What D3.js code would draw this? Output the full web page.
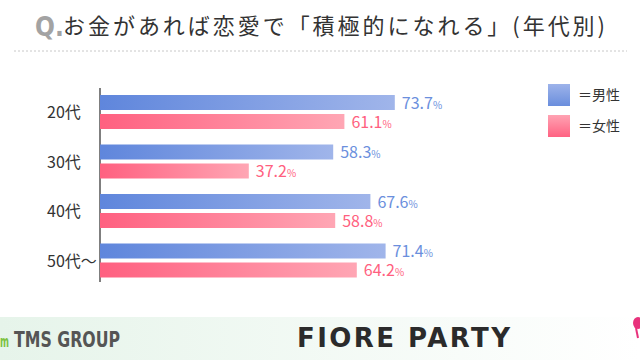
<!DOCTYPE html>
<html lang="ja">
<head>
<meta charset="utf-8">
<title>お金があれば恋愛で「積極的になれる」(年代別)</title>
<script src="https://cdn.jsdelivr.net/npm/d3@7"></script>
<style>
  body { margin: 0; background: #fff; }
  svg { display: block; font-family: "Noto Sans CJK JP", "Noto Sans", sans-serif; }
</style>
</head>
<body>
<script>
// data
var ages = ["20代", "30代", "40代", "50代〜"];
var male = [73.7, 58.3, 67.6, 71.4];
var female = [61.1, 37.2, 58.8, 64.2];
var seriesNames = ["＝男性", "＝女性"];

var w = 640, h = 360;
var svg = d3.select("body").append("svg").attr("width", w).attr("height", h);
var defs = svg.append("defs");

function grad(id, c1, c2, vertical) {
  var g = defs.append("linearGradient").attr("id", id)
    .attr("x1", 0).attr("y1", 0)
    .attr("x2", vertical ? 0 : 1).attr("y2", vertical ? 1 : 0);
  g.append("stop").attr("offset", "0%").attr("stop-color", c1);
  g.append("stop").attr("offset", "100%").attr("stop-color", c2);
}
grad("gMale", "#5f86dc", "#a0b5ea", false);
grad("gFemale", "#ff6080", "#ffa6b4", false);
grad("gMaleV", "#9db3ea", "#6a8edd", true);
grad("gFemaleV", "#ffa3b3", "#ff6282", true);
grad("gFoot", "#e6f4ea", "#ffffff", false);

// title
svg.append("text").attr("x", 35).attr("y", 36)
  .attr("font-size", 26).attr("font-weight", "bold").attr("fill", "#a3a3a3")
  .attr("font-family", "'Liberation Sans Narrow', 'DejaVu Sans Condensed', sans-serif")
  .text("Q.");
svg.append("text").attr("x", 63).attr("y", 34)
  .attr("font-size", 22).attr("fill", "#333")
  .attr("textLength", 542).attr("lengthAdjust", "spacing")
  .text("お金があれば恋愛で「積極的になれる」(年代別)");
svg.append("line").attr("x1", 14).attr("x2", 627).attr("y1", 51).attr("y2", 51)
  .attr("stroke", "#c8c8c8").attr("stroke-width", 1).attr("stroke-dasharray", "2,2");

// scales
var x = d3.scaleLinear().domain([0, 100]).range([100, 500]);
var y = d3.scaleBand().domain(ages).range([92, 290]).paddingInner(0).paddingOuter(0);
var barH = 15, gap = 4;

svg.append("line").attr("x1", 100).attr("x2", 100).attr("y1", 88).attr("y2", 282)
  .attr("stroke", "#555").attr("stroke-width", 1.5);

var groups = svg.selectAll("g.age").data(ages).enter().append("g")
  .attr("class", "age")
  .attr("transform", function(d) { return "translate(0," + y(d) + ")"; });

groups.append("text").attr("x", 47).attr("y", 26)
  .attr("font-size", 16).attr("fill", "#333")
  .text(function(d) { return d; });

function addBars(vals, fillId, color, offset) {
  groups.append("rect")
    .attr("x", x(0)).attr("y", offset).attr("height", barH)
    .attr("width", function(d, i) { return x(vals[i]) - x(0); })
    .attr("fill", "url(#" + fillId + ")");
  var t = groups.append("text")
    .attr("x", function(d, i) { return x(vals[i]) + 7; })
    .attr("y", offset + barH / 2 + 6)
    .attr("fill", color).attr("font-size", 16);
  t.append("tspan").text(function(d, i) { return vals[i].toFixed(1); });
  t.append("tspan").attr("font-size", 10).text("%");
}
addBars(male, "gMale", "#6b8fdd", 3);
addBars(female, "gFemale", "#ff5f80", 3 + barH + gap);

// legend
var legend = svg.selectAll("g.leg").data(seriesNames).enter().append("g")
  .attr("class", "leg")
  .attr("transform", function(d, i) { return "translate(548," + (84 + i * 31) + ")"; });
legend.append("rect").attr("width", 22).attr("height", 22)
  .attr("fill", function(d, i) { return i === 0 ? "url(#gMaleV)" : "url(#gFemaleV)"; });
legend.append("text").attr("x", 30).attr("y", 16).attr("font-size", 14).attr("fill", "#333")
  .text(function(d) { return d; });

// footer
svg.append("rect").attr("x", 0).attr("y", 317).attr("width", w).attr("height", 43)
  .attr("fill", "url(#gFoot)");
svg.append("text").attr("x", 0).attr("y", 347).attr("font-size", 15).attr("font-weight", "bold")
  .attr("fill", "#7cc242").attr("font-family", "'DejaVu Sans Condensed', sans-serif")
  .attr("textLength", 9).attr("lengthAdjust", "spacingAndGlyphs").text("m");
svg.append("text").attr("x", 14).attr("y", 347).attr("font-size", 21).attr("font-weight", "bold")
  .attr("fill", "#555").attr("font-family", "'DejaVu Sans Condensed', 'Liberation Sans Narrow', sans-serif")
  .attr("textLength", 106).attr("lengthAdjust", "spacingAndGlyphs")
  .text("TMS GROUP");
svg.append("text").attr("x", 297).attr("y", 347).attr("font-size", 26).attr("font-weight", "bold")
  .attr("fill", "#2b2b2b").attr("font-family", "'DejaVu Sans', sans-serif")
  .attr("textLength", 213).attr("lengthAdjust", "spacing")
  .text("FIORE PARTY");
svg.append("ellipse").attr("cx", 638).attr("cy", 323).attr("rx", 5).attr("ry", 6).attr("fill", "#e8327c");
svg.append("path").attr("d", "M636,328 L638,338").attr("stroke", "#e8327c").attr("stroke-width", 2);
</script>
</body>
</html>
